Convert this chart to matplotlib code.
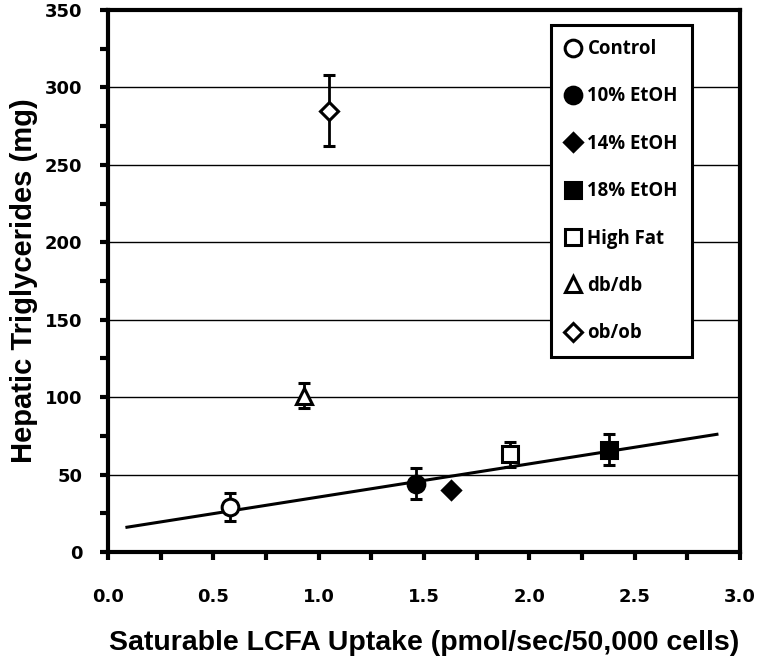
import matplotlib.pyplot as plt
from matplotlib.ticker import MultipleLocator

# group means
groups = ["Control", "10% EtOH", "14% EtOH", "18% EtOH", "High Fat", "db/db", "ob/ob"]
uptake = [0.58, 1.46, 1.63, 2.38, 1.91, 0.93, 1.05]
trig = [29, 44, 40, 66, 63, 101, 285]
trig_err = [9, 10, 0, 10, 8, 8, 23]
markers = ["o", "o", "D", "s", "s", "^", "D"]
filled = [False, True, True, True, False, False, False]
msizes = [12, 12, 9.5, 11, 11, 12, 9.5]

# regression line end points
fit_x = [0.09, 2.89]
fit_y = [16, 76]

fig = plt.figure(figsize=(7.63, 6.63), dpi=100)
ax = fig.add_axes([0.1415, 0.1674, 0.8285, 0.8176])

ax.plot(fit_x, fit_y, color="black", lw=2.2, zorder=2)

for i in range(len(groups)):
    fc = "black" if filled[i] else "white"
    err = trig_err[i] if trig_err[i] > 0 else None
    ax.errorbar(uptake[i], trig[i], yerr=err, fmt=markers[i], ms=msizes[i],
                mfc=fc, mec="black", mew=2.2, ecolor="black", elinewidth=2,
                capsize=4.3, capthick=3, label=groups[i], zorder=3)

ax.set_xlim(0, 3.0)
ax.set_ylim(0, 350)
ax.xaxis.set_major_locator(MultipleLocator(0.5))
ax.xaxis.set_minor_locator(MultipleLocator(0.25))
ax.yaxis.set_major_locator(MultipleLocator(50))
ax.yaxis.set_minor_locator(MultipleLocator(25))
ax.set_xticks([0, 0.5, 1.0, 1.5, 2.0, 2.5, 3.0])
ax.set_xticklabels(["0.0", "0.5", "1.0", "1.5", "2.0", "2.5", "3.0"])
ax.yaxis.grid(True, which="major", color="black", lw=1)
ax.set_axisbelow(True)

for s in ax.spines.values():
    s.set_linewidth(3)
ax.tick_params(which="both", direction="out", width=3, length=6)
ax.tick_params(axis="y", pad=12.5)
ax.tick_params(axis="x", pad=20)
for lab in ax.get_xticklabels() + ax.get_yticklabels():
    lab.set_fontfamily("DejaVu Sans")
    lab.set_fontweight("bold")
    lab.set_fontsize(13)

ax.set_xlabel("Saturable LCFA Uptake (pmol/sec/50,000 cells)", fontsize=20.5,
              fontweight="bold", family="Liberation Sans", labelpad=17)
ax.set_ylabel("Hepatic Triglycerides (mg)", fontsize=21, fontweight="bold",
              family="Liberation Sans", labelpad=5)

handles, labels = ax.get_legend_handles_labels()
leg = ax.legend([h[0] for h in handles], labels, loc="upper left",
                bbox_to_anchor=(0.701, 0.972), frameon=True, fancybox=False,
                framealpha=1, edgecolor="black", labelspacing=1.47,
                handlelength=0.9, handletextpad=0.3, borderpad=0.75,
                borderaxespad=0, markerscale=1.0,
                prop={"family": "Open Sans", "weight": "bold", "size": 13.4})
leg.get_frame().set_linewidth(2.2)
leg.set_zorder(5)

plt.savefig("out.png", dpi=100)
